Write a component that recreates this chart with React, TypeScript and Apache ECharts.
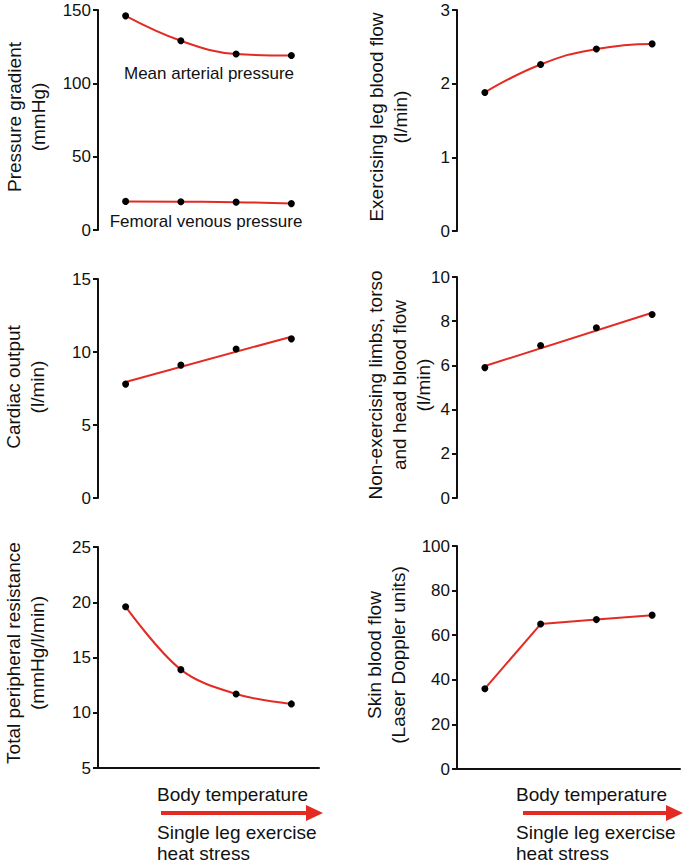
import React, { useEffect, useRef } from "react";
import * as echarts from "echarts";

const categories = ["T1", "T2", "T3", "T4"];
const mapValues = [146, 129, 120, 119];
const fvpValues = [19.5, 19.3, 19, 18];
const legFlowValues = [1.88, 2.26, 2.47, 2.54];
const cardiacOutputValues = [7.8, 9.1, 10.2, 10.9];
const cardiacOutputFit = [7.95, null, null, 11.05];
const nonExValues = [5.9, 6.9, 7.7, 8.3];
const nonExFit = [5.97, null, null, 8.38];
const tprValues = [19.6, 13.9, 11.7, 10.8];
const skinValues = [36, 65, 67, 69];

const yMins = [0, 0, 0, 0, 5, 0];
const yMaxs = [150, 3, 15, 10, 25, 100];
const yIntervals = [50, 1, 5, 2, 5, 20];

const yTitles = [
  "Pressure gradient\n(mmHg)",
  "Exercising leg blood flow\n(l/min)",
  "Cardiac output\n(l/min)",
  "Non-exercising limbs, torso\nand head blood flow\n(l/min)",
  "Total peripheral resistance\n(mmHg/l/min)",
  "Skin blood flow\n(Laser Doppler units)",
];

const FONT = "'Liberation Sans', Arial, Helvetica, sans-serif";
const RED = "#e32b24";
const INK = "#111111";

export default function App() {
  const ref = useRef<HTMLDivElement>(null);
  useEffect(() => {
    if (!ref.current) return;
    const chart = echarts.init(ref.current, undefined, { renderer: "svg" });

    const grids = [
      { left: 98, top: 10, width: 221, height: 220 },
      { left: 457, top: 10, width: 223, height: 221 },
      { left: 98, top: 279, width: 221, height: 219 },
      { left: 457, top: 277, width: 223, height: 221 },
      { left: 98, top: 547, width: 221, height: 221 },
      { left: 457, top: 546, width: 223, height: 223 },
    ];
    const titlePos = [
      [26, 117],
      [388, 117],
      [25, 387],
      [399, 385],
      [25, 653],
      [386, 655],
    ];

    const xAxes = grids.map((_, i) => ({
      type: "category",
      gridIndex: i,
      data: categories,
      boundaryGap: true,
      show: i >= 4,
      axisLine: { show: true, lineStyle: { color: INK, width: 2 } },
      axisTick: { show: false },
      axisLabel: { show: false },
      splitLine: { show: false },
    }));
    const yAxes = grids.map((_, i) => ({
      type: "value",
      gridIndex: i,
      min: yMins[i],
      max: yMaxs[i],
      interval: yIntervals[i],
      axisLine: { show: true, lineStyle: { color: INK, width: 2 } },
      axisTick: { show: true, length: 5, lineStyle: { color: INK, width: 2 } },
      axisLabel: { color: INK, fontSize: 17, fontFamily: FONT, margin: 7 },
      splitLine: { show: false },
    }));

    const lineSeries = (i: number, data: any[], smooth: boolean | number) => ({
      type: "line",
      xAxisIndex: i,
      yAxisIndex: i,
      data,
      smooth,
      symbol: "circle",
      symbolSize: 7,
      itemStyle: { color: "#000", opacity: 1 },
      lineStyle: { color: RED, width: 2 },
      z: 3,
    });
    const fitSeries = (i: number, data: any[]) => ({
      type: "line",
      xAxisIndex: i,
      yAxisIndex: i,
      data,
      connectNulls: true,
      showSymbol: false,
      symbol: "none",
      lineStyle: { color: RED, width: 2 },
      z: 2,
    });
    const pointSeries = (i: number, data: number[]) => ({
      type: "scatter",
      xAxisIndex: i,
      yAxisIndex: i,
      data,
      symbol: "circle",
      symbolSize: 7,
      itemStyle: { color: "#000", opacity: 1 },
      z: 4,
    });

    const textEl = (x: number, y: number, text: string, extra: any = {}) => ({
      type: "text",
      x,
      y,
      style: {
        text,
        fill: INK,
        font: `19px ${FONT}`,
        align: "left",
        verticalAlign: "middle",
        ...extra,
      },
    });

    const graphics: any[] = [];
    yTitles.forEach((t, i) => {
      graphics.push({
        type: "text",
        x: titlePos[i][0],
        y: titlePos[i][1],
        rotation: Math.PI / 2,
        style: {
          text: t,
          fill: INK,
          font: `19px ${FONT}`,
          lineHeight: 24,
          align: "center",
          verticalAlign: "middle",
        },
      });
    });
    graphics.push(textEl(209, 73, "Mean arterial pressure", { align: "center", font: `17px ${FONT}` }));
    graphics.push(textEl(206, 221, "Femoral venous pressure", { align: "center", font: `17px ${FONT}` }));

    const arrows = [
      { tx: 157, x1: 161, x2: 308, tip: 323 },
      { tx: 516, x1: 523, x2: 667, tip: 683 },
    ];
    arrows.forEach((a) => {
      graphics.push(textEl(a.tx, 794, "Body temperature"));
      graphics.push({
        type: "line",
        shape: { x1: a.x1, y1: 813, x2: a.x2, y2: 813 },
        style: { stroke: RED, lineWidth: 4 },
      });
      graphics.push({
        type: "polygon",
        shape: { points: [[a.tip - 17, 805], [a.tip, 813], [a.tip - 17, 821]] },
        style: { fill: RED },
      });
      graphics.push(textEl(a.tx, 842.5, "Single leg exercise\nheat stress", { lineHeight: 21 }));
    });

    chart.setOption({
      animation: false,
      backgroundColor: "#fff",
      grid: grids,
      xAxis: xAxes,
      yAxis: yAxes,
      series: [
        lineSeries(0, mapValues, 0.4),
        lineSeries(0, fvpValues, true),
        lineSeries(1, legFlowValues, true),
        fitSeries(2, cardiacOutputFit),
        pointSeries(2, cardiacOutputValues),
        fitSeries(3, nonExFit),
        pointSeries(3, nonExValues),
        lineSeries(4, tprValues, 0.35),
        lineSeries(5, skinValues, false),
      ],
      graphic: graphics,
    });
    return () => chart.dispose();
  }, []);
  return (
    <div
      ref={ref}
      style={{ position: "fixed", left: 0, top: 0, width: 685, height: 867, background: "#fff" }}
    />
  );
}
